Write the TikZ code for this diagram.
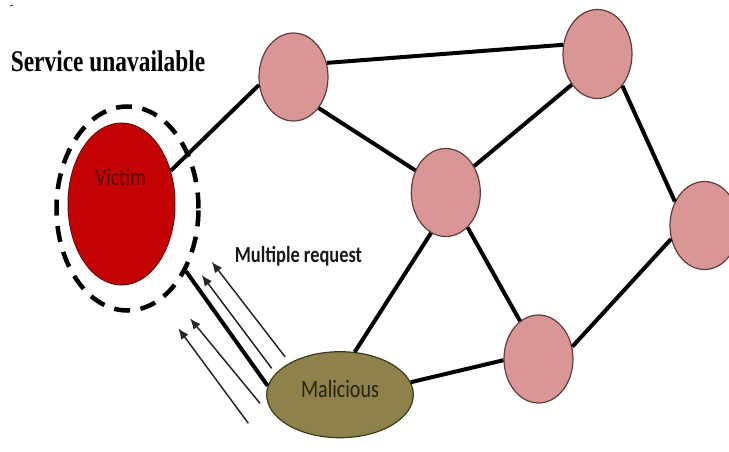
\documentclass[tikz,border=0pt]{standalone}
\usepackage{fontspec}
\setmainfont{Liberation Serif}
\newfontfamily\calib{Carlito}
\usetikzlibrary{arrows.meta,shapes.geometric}

\definecolor{peer}{RGB}{217,150,148}
\definecolor{peerline}{RGB}{95,60,60}
\definecolor{victimred}{RGB}{196,4,4}
\definecolor{victimline}{RGB}{110,10,10}
\definecolor{victimtext}{RGB}{85,10,10}
\definecolor{olive}{RGB}{142,130,74}
\definecolor{oliveline}{RGB}{60,55,30}
\definecolor{olivetext}{RGB}{40,35,14}

% narrow text horizontally
\newcommand\narrowtext[2]{\scalebox{#1}[1]{#2}}

\tikzset{
  peernode/.style={ellipse, draw=peerline, line width=1.2pt, fill=peer,
    minimum width=69pt, minimum height=88pt, inner sep=0pt},
  link/.style={line width=4pt, black},
  request/.style={line width=1.5pt, black!85, -{Latex[length=11pt,width=9pt]}},
}

\begin{document}
\begin{tikzpicture}[x=1pt,y=-1pt]
\useasboundingbox (0,0) rectangle (729,452);

% tiny mark in the corner
\draw[line width=1pt, black!70] (10,6) -- (13,5);

% title
\node[anchor=base, font=\bfseries\fontsize{30}{32}\selectfont] (title) at (108,72)
  {\narrowtext{0.78}{Service unavailable}};

% victim and its dashed ring
\node[ellipse, draw, line width=4.5pt, dash pattern=on 16pt off 10.5pt,
  minimum width=142pt, minimum height=204pt, inner sep=0pt] (ring) at (127.5,208.5) {};
\node[ellipse, draw=victimline, line width=1pt, fill=victimred,
  minimum width=107pt, minimum height=162pt, inner sep=0pt] (victim) at (121.5,204) {};
\node[anchor=base, text=victimtext, font=\calib\fontsize{24}{26}\selectfont] (vlabel) at (120.5,185)
  {\narrowtext{0.82}{Victim}};

% peers
\node[peernode] (n1) at (293.5,77) {};
\node[peernode, minimum height=89pt] (n2) at (597.5,54) {};
\node[peernode] (n3) at (445.8,192.5) {};
\node[peernode] (n4) at (704.5,225.5) {};
\node[peernode] (n5) at (538.5,359) {};

% attacker
\node[ellipse, draw=oliveline, line width=1.2pt, fill=olive,
  minimum width=146.6pt, minimum height=86pt, inner sep=0pt] (mal) at (340,394.7) {};
\node[anchor=base, text=olivetext, font=\calib\fontsize{25}{27}\selectfont] (mlabel) at (340,397.3)
  {\narrowtext{0.8}{Malicious}};

% links
\draw[link] (victim.34) -- (n1.193);
\draw[link] (n1.23) -- (n2.165);
\draw[link] (n1.309) -- (n3.144);
\draw[link] (n2.230) -- (n3.43);
\draw[link] (n2.308) -- (n4.141);
\draw[link] (n4.202) -- (n5.20);
\draw[link] (n3.302) -- (n5.116);
\draw[link] (n3.250) -- (mal.71);
\draw[link] (mal.10) -- (n5.182);
\draw[link] (mal.173) -- (ring.313);

% flood of requests
\coordinate (a1s) at (285,356.7);   \coordinate (a1e) at (211.7,261.7);
\coordinate (a2s) at (271.7,368.3); \coordinate (a2e) at (201.7,275);
\coordinate (a3s) at (260,403.3);   \coordinate (a3e) at (190,318.3);
\coordinate (a4s) at (248.3,423.3); \coordinate (a4e) at (178.3,328.3);
\draw[request] (a1s) -- (a1e);
\draw[request] (a2s) -- (a2e);
\draw[request] (a3s) -- (a3e);
\draw[request] (a4s) -- (a4e);

\node[anchor=base, text=black!90, font=\calib\bfseries\fontsize{23}{25}\selectfont] (mreq) at (298.5,262.7)
  {\narrowtext{0.8}{Multiple request}};
\end{tikzpicture}
\end{document}
